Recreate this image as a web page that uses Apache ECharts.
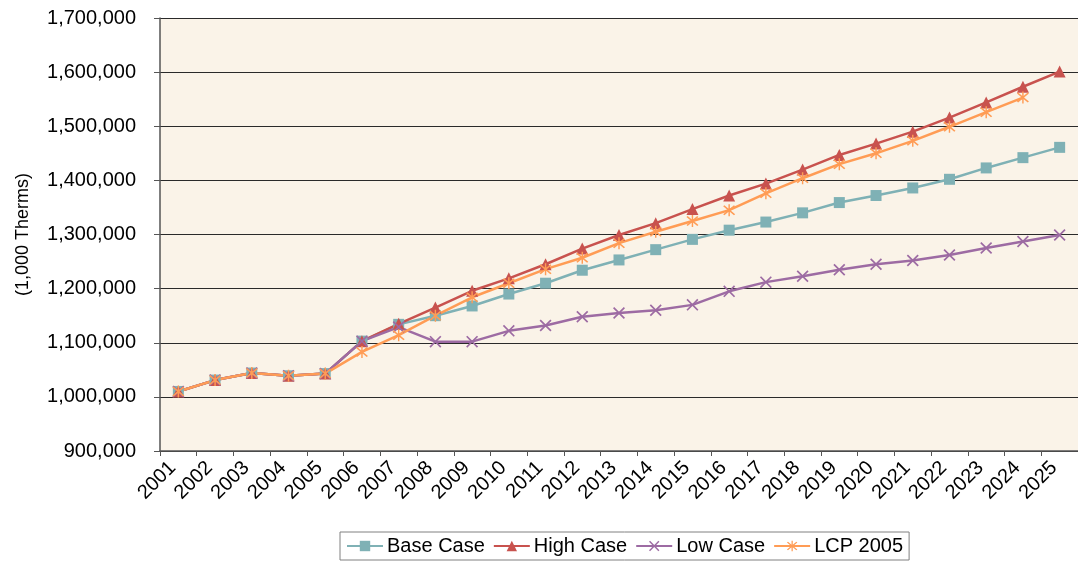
<!DOCTYPE html>
<html>
<head>
<meta charset="utf-8">
<script src="https://cdn.jsdelivr.net/npm/echarts@6/dist/echarts.min.js"></script>
<style>
html,body{margin:0;padding:0;background:#fff;}
#chart{width:1078px;height:562px;}
</style>
</head>
<body>
<div id="chart"></div>
<script>
const years = ['2001','2002','2003','2004','2005','2006','2007','2008','2009','2010','2011','2012','2013','2014','2015','2016','2017','2018','2019','2020','2021','2022','2023','2024','2025'];
const baseCase = [1010000,1031000,1044000,1039000,1043000,1103000,1134000,1150000,1168000,1190000,1210000,1234000,1253000,1272000,1291000,1308000,1323000,1340000,1359000,1372000,1386000,1402000,1423000,1442000,1461000];
const highCase = [1010000,1031000,1044000,1039000,1043000,1103000,1135000,1165000,1196000,1219000,1245000,1274000,1299000,1321000,1347000,1372000,1394000,1420000,1447000,1468000,1490000,1516000,1544000,1573000,1601000];
const lowCase  = [1010000,1031000,1044000,1039000,1043000,1103000,1129000,1102000,1102000,1122000,1132000,1148000,1155000,1160000,1170000,1195000,1212000,1223000,1235000,1245000,1252000,1262000,1275000,1287000,1299000];
const lcp2005  = [1010000,1031000,1044000,1039000,1043000,1083000,1114000,1150000,1184000,1210000,1236000,1257000,1284000,1305000,1325000,1345000,1376000,1404000,1430000,1450000,1473000,1499000,1526000,1553000,null];
const yTicks = [900000,1000000,1100000,1200000,1300000,1400000,1500000,1600000,1700000];

const FONT = 'Liberation Sans, Arial, sans-serif';
const X_PATH = 'path://M0,1 L1,0 L5,4 L9,0 L10,1 L6,5 L10,9 L9,10 L5,6 L1,10 L0,9 L4,5 Z';
const STAR_PATH = 'path://M0,1 L1,0 L5,4 L9,0 L10,1 L6,5 L10,9 L9,10 L5,6 L1,10 L0,9 L4,5 Z M4.4,-1 L5.6,-1 L5.6,11 L4.4,11 Z';

const chart = echarts.init(document.getElementById('chart'), null, {renderer:'canvas'});
function mk(name, data, color, symbol, size) {
  return {
    name, type:'line', data, symbol, symbolSize:size,
    lineStyle:{color, width:2.5}, itemStyle:{color},
    showSymbol:true, animation:false, connectNulls:false
  };
}
chart.setOption({
  backgroundColor:'#ffffff',
  animation:false,
  grid:{left:160, top:18, right:-8, bottom:111, show:true, backgroundColor:'#FAF3E8', borderWidth:0},
  legend:{
    left:340, top:532, itemWidth:36, itemHeight:13, itemGap:8,
    padding:[4,6,4,6], borderColor:'#808080', borderWidth:1,
    textStyle:{fontFamily:FONT, fontSize:20, color:'#000', padding:[0,0,0,-1]},
    data:['Base Case','High Case','Low Case','LCP 2005']
  },
  xAxis:{
    type:'category', data:years, boundaryGap:true,
    axisLine:{lineStyle:{color:'#555', width:1.5}},
    axisTick:{show:true, length:5, lineStyle:{color:'#555'}},
    axisLabel:{rotate:45, fontFamily:FONT, fontSize:20, color:'#000', margin:8, interval:0, padding:[0,8,0,0]},
    splitLine:{show:false}
  },
  yAxis:{
    type:'value', min:900000, max:1700000, interval:100000,
    name:'(1,000 Therms)', nameLocation:'middle', nameGap:128,
    nameTextStyle:{fontFamily:FONT, fontSize:18, color:'#000'},
    axisLine:{show:true, lineStyle:{color:'#555', width:1.5}},
    axisTick:{show:true, length:6, lineStyle:{color:'#555'}},
    axisLabel:{fontFamily:FONT, fontSize:20, color:'#000', margin:24,
      formatter:v => v.toLocaleString('en-US')},
    splitLine:{show:true, lineStyle:{color:'#2a2a2a', width:1.2}}
  },
  series:[
    mk('Base Case', baseCase, '#7FB1B5', 'rect', 11),
    mk('High Case', highCase, '#C8524E', 'triangle', 12),
    mk('Low Case', lowCase, '#9D6BA3', X_PATH, 12),
    mk('LCP 2005', lcp2005, '#FF9C55', STAR_PATH, 12)
  ]
});
</script>
</body>
</html>
